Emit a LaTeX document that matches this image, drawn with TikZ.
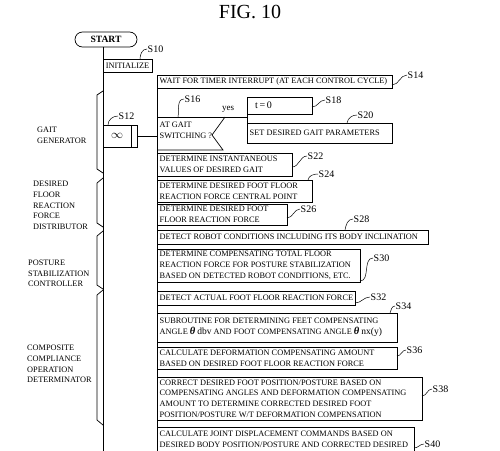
\documentclass[tikz,border=0pt]{standalone}
\usepackage{fontspec}
\setmainfont{Liberation Serif}
\tikzset{
  boxsty/.style={draw, line width=0.7pt, inner sep=0pt, outer sep=0pt},
  txt/.style={font=\fontsize{8.3}{10.7}\selectfont, align=left, inner sep=0pt},
  lab/.style={font=\fontsize{10}{12}\selectfont, inner sep=0.5pt, anchor=west},
  leader/.style={line width=0.5pt},
  ln/.style={line width=0.7pt},
}
\newcommand{\mybox}[6]{%
  \node[boxsty, anchor=north west, minimum width={(#4)-(#2)}, minimum height={(#5)-(#3)}] (#1) at (#2,#3) {};
  \node[txt, anchor=west] (#1t) at ([xshift=2.5pt]#1.west) {#6};}
\newcommand{\thet}{{\fontsize{10.5}{10.7}\selectfont\bfseries\itshape θ}}
\newcommand{\bigtx}[1]{{\fontsize{9.5}{10.7}\selectfont #1}}
\begin{document}
\begin{tikzpicture}[x=1pt,y=-1pt]
\useasboundingbox (0,0) rectangle (500,450);
\clip (0,0) rectangle (500,450);

% title
\node[font=\fontsize{20}{24}\selectfont] (title) at (250,12) {FIG. 10};

% start
\node[draw, ln, rounded corners=7.5pt, minimum width=62pt, minimum height=15pt, inner sep=0pt,
      font=\fontsize{9.6}{11}\selectfont\bfseries] (start) at (106,39.5) {START};
\coordinate (mainend) at (103,460);
\draw[ln] (start.south -| mainend) -- (mainend);

% initialize
\node[boxsty, anchor=north west, minimum width=49, minimum height=13, txt] (init) at (103,59) {INITIALIZE};
\node[lab] (n10) at (147,49) {S10};
\draw[leader] ([xshift=-12pt]init.north east) to[out=90,in=180] (n10.west);

% wait
\mybox{wait}{157}{75}{392}{88}{WAIT FOR TIMER INTERRUPT (AT EACH CONTROL CYCLE)}
\node[lab] (n14) at (407,75) {S14};
\draw[leader] ([yshift=3pt]wait.south east) to[out=0,in=180] (n14.west);
\coordinate (secend) at (157,460);
\draw[ln] (wait.south west) -- (secend);

% S12 loop box
\node[boxsty, anchor=north west, minimum width=34, minimum height=22] (s12) at (103,125) {};
\draw[ln] ([xshift=-6pt]s12.north east) -- ([xshift=-6pt]s12.south east);
\node[inner sep=0pt, font=\fontsize{13}{13}\selectfont] (inf) at ([xshift=-3pt]s12.center) {$\infty$};
\draw[ln] (s12.east) -- (s12.east -| secend);
\node[lab] (n12) at (118,116) {S12};
\draw[leader] ([xshift=5pt]s12.north west) to[out=90,in=180] (n12.west);

% S16 decision
\coordinate (dtop) at (157,117);
\coordinate (dyes) at (247,117);
\draw[ln] (dtop) -- (dyes);
\draw[ln] (225,117) -- (212,135) -- (223,150) -- (157,150);
\node[txt, anchor=west] (s16t) at (159.5,130.5) {AT GAIT\\SWITCHING ?};
\node[font=\fontsize{9}{10}\selectfont, inner sep=0pt] (yes) at (228,109.5) {yes};
\node[lab] (n16) at (184,99) {S16};
\draw[leader] (178,117) to[out=80,in=180] (n16.west);

% t=0 and S20
\node[boxsty, anchor=north west, minimum width=65, minimum height=17] (t0) at (247,97) {};
\node[inner sep=0pt, anchor=west, font=\fontsize{10}{12}\selectfont] (t0t) at ([xshift=8pt]t0.west) {t\,=\,0};
\node[lab] (n18) at (325,100) {S18};
\draw[leader] ([yshift=7pt]t0.south east) to[out=0,in=180] (n18.west);
\mybox{s20}{247}{123}{392}{143}{SET DESIRED GAIT PARAMETERS}
\draw[ln] (t0.south west) -- (s20.north west);
\node[lab] (n20) at (357,115) {S20};
\draw[leader] ([xshift=-45pt]s20.north east) to[out=80,in=180] (n20.west);

% S22
\mybox{s22}{157}{153}{292}{176}{DETERMINE INSTANTANEOUS\\VALUES OF DESIRED GAIT}
\node[lab] (n22) at (307,156) {S22};
\draw[leader] ([yshift=9pt]s22.south east) to[out=0,in=180] (n22.west);

% S24
\mybox{s24}{157}{180}{312}{202}{DETERMINE DESIRED FOOT FLOOR\\REACTION FORCE CENTRAL POINT}
\node[lab] (n24) at (318,174) {S24};
\draw[leader] ([xshift=-4pt]s24.north east) to[out=80,in=180] (n24.west);

% S26
\mybox{s26}{157}{204}{287}{225}{DETERMINE DESIRED FOOT\\FLOOR REACTION FORCE}
\node[lab] (n26) at (300,209) {S26};
\draw[leader] ([yshift=7pt]s26.south east) to[out=0,in=180] (n26.west);

% S28
\mybox{s28}{157}{230}{428}{244}{DETECT ROBOT CONDITIONS INCLUDING ITS BODY INCLINATION}
\node[lab] (n28) at (353,219) {S28};
\draw[leader] ([xshift=-83pt]s28.north east) to[out=80,in=180] (n28.west);

% S30
\mybox{s30}{157}{249}{360}{282}{DETERMINE COMPENSATING TOTAL FLOOR\\REACTION FORCE FOR POSTURE STABILIZATION\\BASED ON DETECTED ROBOT CONDITIONS, ETC.}
\node[lab] (n30) at (373,258) {S30};
\draw[leader] ([yshift=1pt]s30.south east) to[out=0,in=180] (n30.west);

% S32
\mybox{s32}{157}{291}{355}{305}{DETECT ACTUAL FOOT FLOOR REACTION FORCE}
\node[lab] (n32) at (370,297) {S32};
\draw[leader] ([yshift=2pt]s32.south east) to[out=0,in=180] (n32.west);

% S34
\mybox{s34}{157}{313}{397}{342}{SUBROUTINE FOR DETERMINING FEET COMPENSATING\\ANGLE \thet\ \bigtx{dbv} AND FOOT COMPENSATING ANGLE \thet\ \bigtx{nx(y)}}
\node[lab] (n34) at (395,306) {S34};
\draw[leader] ([xshift=-7pt]s34.north east) to[out=70,in=180] (n34.west);

% S36
\mybox{s36}{157}{347}{397}{369}{CALCULATE DEFORMATION COMPENSATING AMOUNT\\BASED ON DESIRED FOOT FLOOR REACTION FORCE}
\node[lab] (n36) at (406,350) {S36};
\draw[leader] ([yshift=13pt]s36.south east) to[out=0,in=180] (n36.west);

% S38
\mybox{s38}{157}{377}{422}{420}{CORRECT DESIRED FOOT POSITION/POSTURE BASED ON\\COMPENSATING ANGLES AND DEFORMATION COMPENSATING\\AMOUNT TO DETERMINE CORRECTED DESIRED FOOT\\POSITION/POSTURE W/T DEFORMATION COMPENSATION}
\node[lab] (n38) at (432,389) {S38};
\draw[leader] ([yshift=24pt]s38.south east) to[out=0,in=180] (n38.west);

% S40
\node[boxsty, anchor=north west, minimum width=257, minimum height=40] (s40) at (157,427) {};
\node[txt, anchor=north west] (s40t) at (159.5,431) {CALCULATE JOINT DISPLACEMENT COMMANDS BASED ON\\DESIRED BODY POSITION/POSTURE AND CORRECTED DESIRED};
\node[lab] (n40) at (424,444) {S40};
\draw[leader] (414,448) to[out=0,in=180] (n40.west);

% brackets
\draw[ln] (103,91) -- (97,95) -- (97,169) -- (103,173);
\draw[ln] (103,178) -- (97,183) -- (97,223) -- (103,227);
\draw[ln] (103,231) -- (97,236) -- (97,285) -- (103,289);
\draw[ln] (103,290) -- (97,295) -- (97,420) -- (103,425);

% module labels
\node[txt, anchor=west] (gg) at (37,135.5) {GAIT\\GENERATOR};
\node[txt, anchor=west] (dfr) at (33,205.5) {DESIRED\\FLOOR\\REACTION\\FORCE\\DISTRIBUTOR};
\node[txt, anchor=west] (psc) at (28,273.5) {POSTURE\\STABILIZATION\\CONTROLLER};
\node[txt, anchor=west] (cco) at (27,364) {COMPOSITE\\COMPLIANCE\\OPERATION\\DETERMINATOR};
\end{tikzpicture}
\end{document}
